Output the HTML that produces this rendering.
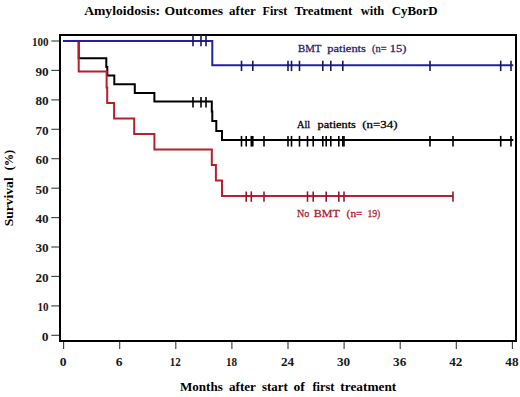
<!DOCTYPE html>
<html><head><meta charset="utf-8"><style>
html,body{margin:0;padding:0;background:#fff;}
svg{display:block;}
text{font-family:"Liberation Serif",serif;}
</style></head><body>
<svg width="520" height="397" viewBox="0 0 520 397">
<rect x="0" y="0" width="520" height="397" fill="#fff"/>
<g stroke="#3a3a3a" stroke-width="1.1"><line x1="51.3" y1="335.3" x2="59" y2="335.3"/><line x1="51.3" y1="305.9" x2="59" y2="305.9"/><line x1="51.3" y1="276.4" x2="59" y2="276.4"/><line x1="51.3" y1="247.0" x2="59" y2="247.0"/><line x1="51.3" y1="217.6" x2="59" y2="217.6"/><line x1="51.3" y1="188.2" x2="59" y2="188.2"/><line x1="51.3" y1="158.7" x2="59" y2="158.7"/><line x1="51.3" y1="129.3" x2="59" y2="129.3"/><line x1="51.3" y1="99.9" x2="59" y2="99.9"/><line x1="51.3" y1="70.4" x2="59" y2="70.4"/><line x1="51.3" y1="41.0" x2="59" y2="41.0"/><line x1="63.6" y1="342" x2="63.6" y2="349"/><line x1="119.7" y1="342" x2="119.7" y2="349"/><line x1="175.8" y1="342" x2="175.8" y2="349"/><line x1="231.9" y1="342" x2="231.9" y2="349"/><line x1="288.0" y1="342" x2="288.0" y2="349"/><line x1="344.1" y1="342" x2="344.1" y2="349"/><line x1="400.2" y1="342" x2="400.2" y2="349"/><line x1="456.3" y1="342" x2="456.3" y2="349"/><line x1="512.4" y1="342" x2="512.4" y2="349"/></g>
<g font-size="11.5" font-weight="bold" fill="#1a1a1a"><text transform="translate(48.6,340.6) scale(1.18,1)" text-anchor="end">0</text><text transform="translate(48.6,311.2) scale(0.96,1)" text-anchor="end">10</text><text transform="translate(48.6,281.7) scale(1.15,1)" text-anchor="end">20</text><text transform="translate(48.6,252.3) scale(1.15,1)" text-anchor="end">30</text><text transform="translate(48.6,222.9) scale(1.15,1)" text-anchor="end">40</text><text transform="translate(48.6,193.5) scale(1.15,1)" text-anchor="end">50</text><text transform="translate(48.6,164.0) scale(1.15,1)" text-anchor="end">60</text><text transform="translate(48.6,134.6) scale(1.15,1)" text-anchor="end">70</text><text transform="translate(48.6,105.2) scale(1.15,1)" text-anchor="end">80</text><text transform="translate(48.6,75.7) scale(1.15,1)" text-anchor="end">90</text><text transform="translate(48.6,46.3) scale(0.96,1)" text-anchor="end">100</text><text transform="translate(63.1,366.2) scale(1.18,1)" text-anchor="middle">0</text><text transform="translate(119.2,366.2) scale(1.18,1)" text-anchor="middle">6</text><text transform="translate(175.3,366.2) scale(0.96,1)" text-anchor="middle">12</text><text transform="translate(231.4,366.2) scale(0.96,1)" text-anchor="middle">18</text><text transform="translate(287.5,366.2) scale(1.15,1)" text-anchor="middle">24</text><text transform="translate(343.6,366.2) scale(1.15,1)" text-anchor="middle">30</text><text transform="translate(399.7,366.2) scale(1.15,1)" text-anchor="middle">36</text><text transform="translate(455.8,366.2) scale(1.15,1)" text-anchor="middle">42</text><text transform="translate(511.9,366.2) scale(1.15,1)" text-anchor="middle">48</text></g>
<rect x="60" y="35" width="456" height="306" fill="none" stroke="#000" stroke-width="2"/>
<g fill="none" stroke-width="2" stroke-linejoin="miter" stroke-linecap="butt">
<path d="M63.0,41.0 H78.7 V58.3 H106.3 V67.0 H107.3 V75.6 H114.3 V84.3 H134.8 V92.9 H154.4 V101.6 H211.8 V111.6 H212.3 V120.9 H216.3 V130.9 H222.0 V140.0 H513.3" stroke="#000"/>
<path d="M63.0,41.0 H78.7 V71.5 H106.6 V87.5 H107.2 V103.0 H114.1 V118.4 H134.2 V133.9 H154.4 V149.4 H211.8 V164.9 H215.9 V180.4 H222.0 V195.9 H453" stroke="#b91e2e"/>
<path d="M63.0,41.0 H212.3 V65.2 H513.3" stroke="#2222a0"/>
</g>
<g stroke-width="1.6">
<g stroke="#000"><line x1="193" y1="97.1" x2="193" y2="107.5"/><line x1="201" y1="97.1" x2="201" y2="107.5"/><line x1="206" y1="97.1" x2="206" y2="107.5"/><line x1="241.5" y1="135.9" x2="241.5" y2="146.6"/><line x1="246.2" y1="135.9" x2="246.2" y2="146.6"/><line x1="251.3" y1="135.9" x2="251.3" y2="146.6"/><line x1="252.8" y1="135.9" x2="252.8" y2="146.6"/><line x1="264" y1="135.9" x2="264" y2="146.6"/><line x1="288" y1="135.9" x2="288" y2="146.6"/><line x1="291.5" y1="135.9" x2="291.5" y2="146.6"/><line x1="299.5" y1="135.9" x2="299.5" y2="146.6"/><line x1="307.5" y1="135.9" x2="307.5" y2="146.6"/><line x1="313.2" y1="135.9" x2="313.2" y2="146.6"/><line x1="322.8" y1="135.9" x2="322.8" y2="146.6"/><line x1="326.2" y1="135.9" x2="326.2" y2="146.6"/><line x1="330.8" y1="135.9" x2="330.8" y2="146.6"/><line x1="338.8" y1="135.9" x2="338.8" y2="146.6"/><line x1="342.8" y1="135.9" x2="342.8" y2="146.6"/><line x1="344" y1="135.9" x2="344" y2="146.6"/><line x1="430" y1="135.9" x2="430" y2="146.6"/><line x1="453" y1="135.9" x2="453" y2="146.6"/><line x1="500.7" y1="135.9" x2="500.7" y2="146.6"/><line x1="511" y1="135.9" x2="511" y2="146.6"/></g>
<g stroke="#8c1c2c"><line x1="246.2" y1="191.4" x2="246.2" y2="201.8"/><line x1="251.3" y1="191.4" x2="251.3" y2="201.8"/><line x1="264" y1="191.4" x2="264" y2="201.8"/><line x1="307.5" y1="191.4" x2="307.5" y2="201.8"/><line x1="313.2" y1="191.4" x2="313.2" y2="201.8"/><line x1="326.2" y1="191.4" x2="326.2" y2="201.8"/><line x1="338.8" y1="191.4" x2="338.8" y2="201.8"/><line x1="344" y1="191.4" x2="344" y2="201.8"/><line x1="453" y1="191.4" x2="453" y2="201.8"/></g>
<g stroke="#181858"><line x1="193" y1="35.0" x2="193" y2="46.2"/><line x1="201" y1="35.0" x2="201" y2="46.2"/><line x1="206" y1="35.0" x2="206" y2="46.2"/><line x1="241.5" y1="60.7" x2="241.5" y2="71.1"/><line x1="252.8" y1="60.7" x2="252.8" y2="71.1"/><line x1="288" y1="60.7" x2="288" y2="71.1"/><line x1="291.5" y1="60.7" x2="291.5" y2="71.1"/><line x1="299.5" y1="60.7" x2="299.5" y2="71.1"/><line x1="322.8" y1="60.7" x2="322.8" y2="71.1"/><line x1="330.8" y1="60.7" x2="330.8" y2="71.1"/><line x1="342.8" y1="60.7" x2="342.8" y2="71.1"/><line x1="430" y1="60.7" x2="430" y2="71.1"/><line x1="500.7" y1="60.7" x2="500.7" y2="71.1"/><line x1="511" y1="60.7" x2="511" y2="71.1"/></g>
</g>
<text transform="translate(84.14,14.8) scale(1.0502,1)" font-size="13" font-weight="bold" fill="#000">Amyloidosis:</text><text transform="translate(164.51,14.8) scale(1.0550,1)" font-size="13" font-weight="bold" fill="#000">Outcomes</text><text transform="translate(229.10,14.8) scale(0.9962,1)" font-size="13" font-weight="bold" fill="#000">after</text><text transform="translate(262.57,14.8) scale(0.9245,1)" font-size="13" font-weight="bold" fill="#000">First</text><text transform="translate(294.55,14.8) scale(0.9957,1)" font-size="13" font-weight="bold" fill="#000">Treatment</text><text transform="translate(360.80,14.8) scale(0.9567,1)" font-size="13" font-weight="bold" fill="#000">with</text><text transform="translate(391.65,14.8) scale(0.9966,1)" font-size="13" font-weight="bold" fill="#000">CyBorD</text><text transform="translate(179.95,391.2) scale(1.0071,1)" font-size="13" font-weight="bold" fill="#000">Months</text><text transform="translate(229.00,391.2) scale(1.0077,1)" font-size="13" font-weight="bold" fill="#000">after</text><text transform="translate(262.11,391.2) scale(0.9882,1)" font-size="13" font-weight="bold" fill="#000">start</text><text transform="translate(293.38,391.2) scale(1.0476,1)" font-size="13" font-weight="bold" fill="#000">of</text><text transform="translate(312.40,391.2) scale(0.9478,1)" font-size="13" font-weight="bold" fill="#000">first</text><text transform="translate(340.34,391.2) scale(1.0249,1)" font-size="13" font-weight="bold" fill="#000">treatment</text><text transform="translate(297.95,51.5) scale(0.9872,1)" font-size="11" font-weight="normal" fill="#23236e" stroke="#23236e" stroke-width="0.28">BMT</text><text transform="translate(327.22,51.5) scale(1.1313,1)" font-size="11" font-weight="normal" fill="#23236e" stroke="#23236e" stroke-width="0.28">patients</text><text transform="translate(372.03,51.5) scale(0.9448,1)" font-size="11" font-weight="normal" fill="#23236e" stroke="#23236e" stroke-width="0.28">(n=</text><text transform="translate(389.77,51.5) scale(1.1321,1)" font-size="11" font-weight="normal" fill="#23236e" stroke="#23236e" stroke-width="0.28">15)</text><text transform="translate(297.00,128.2) scale(0.9382,1)" font-size="11" font-weight="normal" fill="#000" stroke="#000" stroke-width="0.28">All</text><text transform="translate(317.62,128.2) scale(1.1194,1)" font-size="11" font-weight="normal" fill="#000" stroke="#000" stroke-width="0.28">patients</text><text transform="translate(362.21,128.2) scale(1.1759,1)" font-size="11" font-weight="normal" fill="#000" stroke="#000" stroke-width="0.28">(n=34)</text><text transform="translate(296.97,216.6) scale(0.9176,1)" font-size="11" font-weight="normal" fill="#a82236" stroke="#a82236" stroke-width="0.28">No</text><text transform="translate(313.73,216.6) scale(1.0936,1)" font-size="11" font-weight="normal" fill="#a82236" stroke="#a82236" stroke-width="0.28">BMT</text><text transform="translate(346.58,216.6) scale(1.0414,1)" font-size="11" font-weight="normal" fill="#a82236" stroke="#a82236" stroke-width="0.28">(n=</text><text transform="translate(367.42,216.6) scale(0.8830,1)" font-size="11" font-weight="normal" fill="#a82236" stroke="#a82236" stroke-width="0.28">19)</text>
<text transform="translate(13.3,226.28) rotate(-90) scale(1.0435,1)" font-size="13" font-weight="bold" fill="#000">Survival</text><text transform="translate(12.6,170.27) rotate(-90) scale(0.9463,1)" font-size="13" font-weight="bold" fill="#000">(%)</text>
</svg>
</body></html>
